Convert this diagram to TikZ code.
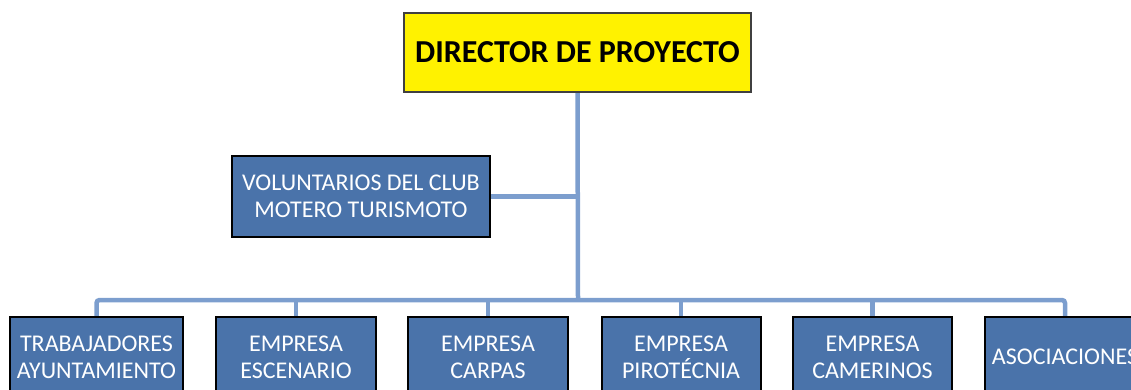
\documentclass[tikz,border=0pt]{standalone}
\usepackage{fontspec}
\setmainfont{Carlito}
\definecolor{linec}{RGB}{124,158,206}
\definecolor{boxc}{RGB}{74,115,170}
\definecolor{dirborder}{RGB}{64,64,64}
\pgfdeclarelayer{background}
\pgfsetlayers{background,main}
\begin{document}
\begin{tikzpicture}[x=1pt,y=-1pt,
  conn/.style={draw=linec,line width=4.5pt},
  bluebox/.style={draw=black,line width=2pt,fill=boxc,text=white,align=center,
    minimum height=80pt,inner sep=1pt,font=\fontsize{24}{27}\selectfont},
  dirbox/.style={draw=dirborder,line width=2pt,fill=yellow,text=black,
    minimum width=347pt,minimum height=79pt,font=\bfseries\fontsize{32}{36}\selectfont}]
\useasboundingbox (0,0) rectangle (1131,389);
\clip (0,0) rectangle (1131,389);
\node[dirbox] (dir) at (577.5,52.5) {DIRECTOR DE PROYECTO};
\coordinate (bus) at (578,300);
\coordinate (volj) at (578,197);
\node[bluebox,minimum width=258pt,minimum height=81pt] (vol) at (361,196.5) {VOLUNTARIOS DEL CLUB\\MOTERO TURISMOTO};
\node[bluebox,minimum width=173pt,anchor=north] (b1) at (96.5,316) {TRABAJADORES\\AYUNTAMIENTO};
\node[bluebox,minimum width=160pt,anchor=north] (b2) at (296,316) {EMPRESA\\ESCENARIO};
\node[bluebox,minimum width=160pt,anchor=north] (b3) at (488,316) {EMPRESA\\CARPAS};
\node[bluebox,minimum width=159pt,anchor=north] (b4) at (681,316) {EMPRESA\\PIROTÉCNIA};
\node[bluebox,minimum width=159pt,anchor=north] (b5) at (872.5,316) {EMPRESA\\CAMERINOS};
\node[bluebox,minimum width=160pt,anchor=north] (b6) at (1065,316) {ASOCIACIONES};
\begin{pgfonlayer}{background}
\draw[conn] (dir.south) -- (bus);
\draw[conn] (vol.east) -- (vol.east -| volj);
\draw[conn,rounded corners=3pt] (b1.north) |- (bus) -| (b6.north);
\foreach \b in {b2,b3,b4,b5}{\draw[conn] (\b.north) -- (\b.north |- bus);}
\end{pgfonlayer}
\end{tikzpicture}
\end{document}
